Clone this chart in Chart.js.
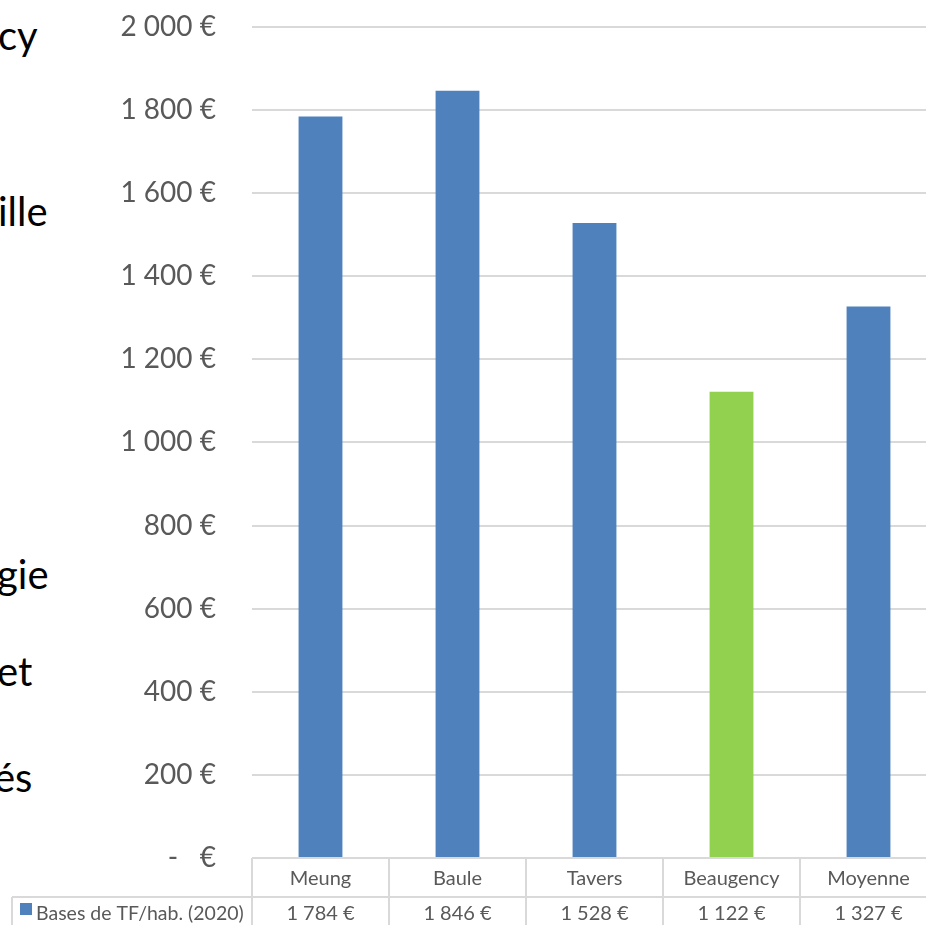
<!DOCTYPE html>
<html><head><meta charset="utf-8">
<script src="https://cdn.jsdelivr.net/npm/chart.js@4/dist/chart.umd.min.js"></script>
<style>
html,body{margin:0;padding:0;background:#fff;overflow:hidden;width:926px;height:925px;}
#wrap{position:absolute;left:0;top:-26px;width:940px;height:962px;}
.bg{position:absolute;font-family:Lato,"Open Sans",sans-serif;font-size:40px;line-height:40px;color:#000;white-space:nowrap;}
</style></head>
<body>
<div class="bg" style="left:-2px;top:15px">cy</div>
<div class="bg" style="left:-2px;top:191px">ille</div>
<div class="bg" style="left:-3px;top:554px">gie</div>
<div class="bg" style="left:-3px;top:651px">et</div>
<div class="bg" style="left:-6px;top:757px">és</div>
<div id="wrap"><canvas id="c"></canvas></div>
<script>
const categories = ["Meung", "Baule", "Tavers", "Beaugency", "Moyenne"];
const seriesName = "Bases de TF/hab. (2020)";
const values = [1784, 1846, 1528, 1122, 1327];
const yTicks = [0, 200, 400, 600, 800, 1000, 1200, 1400, 1600, 1800, 2000];
const highlight = "Beaugency";

const fmt = v => v === 0 ? "-   €" : String(v).replace(/\B(?=(\d{3})+(?!\d))/g, " ") + " €";
const BLUE = "#4F81BD", GREEN = "#92D050", GRID = "#D9D9D9", TXT = "#595959";
const FONT = 'Lato, "Open Sans", sans-serif';

const tablePlugin = {
  id: "dataTable",
  afterDraw(chart) {
    const ctx = chart.ctx, xs = chart.scales.x, area = chart.chartArea;
    const top = area.bottom, mid = top + 39, bot = mid + 40;
    const n = categories.length;
    const colW = (xs.right - xs.left) / n;
    ctx.save();
    ctx.strokeStyle = GRID; ctx.lineWidth = 2;
    ctx.beginPath();
    ctx.moveTo(xs.left, top); ctx.lineTo(xs.right + 5, top);
    ctx.moveTo(12, mid); ctx.lineTo(xs.right + 5, mid);
    ctx.moveTo(12, bot); ctx.lineTo(xs.right + 5, bot);
    ctx.moveTo(12, mid); ctx.lineTo(12, bot);
    for (let i = 0; i <= n; i++) {
      const x = xs.left + i * colW;
      ctx.moveTo(x, top); ctx.lineTo(x, bot);
    }
    ctx.stroke();
    ctx.fillStyle = TXT;
    ctx.textAlign = "center"; ctx.textBaseline = "middle";
    ctx.font = "20px " + FONT;
    categories.forEach((c, i) => {
      const x = xs.getPixelForValue(i);
      ctx.fillText(c, x, (top + mid) / 2 + 1);
      ctx.fillText(fmt(values[i]), x, (mid + bot) / 2 - 3);
    });
    ctx.fillStyle = BLUE;
    ctx.fillRect(20, mid + 6, 12, 12);
    ctx.fillStyle = TXT; ctx.textAlign = "left";
    ctx.font = "19.5px " + FONT;
    ctx.fillText(seriesName, 36, (mid + bot) / 2 - 3);
    ctx.restore();
  }
};

new Chart(document.getElementById("c"), {
  type: "bar",
  data: {
    labels: categories,
    datasets: [{
      label: seriesName,
      data: values,
      backgroundColor: categories.map(c => c === highlight ? GREEN : BLUE),
      barPercentage: 0.32,
      categoryPercentage: 1
    }]
  },
  options: {
    responsive: true,
    maintainAspectRatio: false,
    animation: false,
    layout: { padding: { top: 4, right: 3, left: 0, bottom: 0 } },
    plugins: { legend: { display: false }, tooltip: { enabled: false } },
    scales: {
      x: {
        grid: { display: false },
        border: { display: false },
        ticks: { display: false },
        afterFit: s => { s.height = 78; }
      },
      y: {
        min: 0, max: 2000,
        afterBuildTicks: s => { s.ticks = yTicks.map(v => ({ value: v })); },
        afterFit: s => { s.width = 252; },
        grid: { color: GRID, lineWidth: 2, drawTicks: false },
        border: { display: false },
        ticks: {
          padding: 36,
          color: TXT,
          font: { family: FONT, size: 28 },
          callback: v => fmt(v)
        }
      }
    }
  },
  plugins: [tablePlugin]
});
</script>
</body></html>
